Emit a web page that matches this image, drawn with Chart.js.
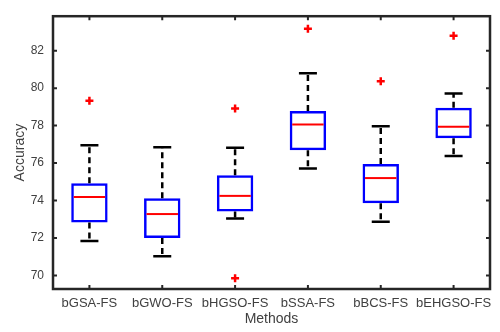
<!DOCTYPE html>
<html>
<head>
<meta charset="utf-8">
<script src="https://cdn.jsdelivr.net/npm/chart.js@4.4.1/dist/chart.umd.min.js"></script>
<style>
  html, body { margin: 0; padding: 0; background: #fff; }
</style>
</head>
<body>
<canvas id="boxChart" width="500" height="332"></canvas>
<script>
const methods = ['bGSA-FS', 'bGWO-FS', 'bHGSO-FS', 'bSSA-FS', 'bBCS-FS', 'bEHGSO-FS'];
const lowerWhisker = [71.84, 71.03, 73.04, 75.71, 72.87, 76.38];
const q1 = [72.83, 72.00, 73.41, 76.69, 73.86, 77.32];
const median = [74.19, 73.28, 74.25, 78.06, 75.20, 77.94];
const q3 = [74.92, 74.13, 75.35, 78.78, 75.95, 78.95];
const upperWhisker = [76.95, 76.84, 76.82, 80.80, 77.97, 79.71];
const outlierMethods = ['bGSA-FS', 'bHGSO-FS', 'bHGSO-FS', 'bSSA-FS', 'bBCS-FS', 'bEHGSO-FS'];
const outlierValues = [79.33, 78.92, 69.85, 83.17, 80.37, 82.80];
const yTicks = [70, 72, 74, 76, 78, 80, 82];

const labelColor = '#404040';

// whiskers, medians, frame and inward ticks
const boxExtras = {
    id: 'boxExtras',
    afterDatasetsDraw(chart) {
        const { ctx, chartArea } = chart;
        const x = chart.scales.x;
        const y = chart.scales.y;
        const boxW = (x.getPixelForValue(1) - x.getPixelForValue(0)) * 0.5;
        const capW = 18;
        ctx.save();
        methods.forEach((m, i) => {
            const cx = x.getPixelForValue(i);
            // dashed whiskers
            ctx.strokeStyle = '#000';
            ctx.lineWidth = 2.5;
            ctx.setLineDash([6, 4]);
            ctx.beginPath();
            ctx.moveTo(cx, y.getPixelForValue(q3[i]));
            ctx.lineTo(cx, y.getPixelForValue(upperWhisker[i]));
            ctx.moveTo(cx, y.getPixelForValue(q1[i]));
            ctx.lineTo(cx, y.getPixelForValue(lowerWhisker[i]));
            ctx.stroke();
            // caps
            ctx.setLineDash([]);
            ctx.beginPath();
            ctx.moveTo(cx - capW / 2, y.getPixelForValue(upperWhisker[i]));
            ctx.lineTo(cx + capW / 2, y.getPixelForValue(upperWhisker[i]));
            ctx.moveTo(cx - capW / 2, y.getPixelForValue(lowerWhisker[i]));
            ctx.lineTo(cx + capW / 2, y.getPixelForValue(lowerWhisker[i]));
            ctx.stroke();
            // median
            ctx.strokeStyle = '#ff0000';
            ctx.lineWidth = 2;
            ctx.beginPath();
            ctx.moveTo(cx - boxW / 2 + 2.5, y.getPixelForValue(median[i]));
            ctx.lineTo(cx + boxW / 2 - 2.5, y.getPixelForValue(median[i]));
            ctx.stroke();
        });

        // frame
        ctx.strokeStyle = '#262626';
        ctx.lineWidth = 2.5;
        ctx.strokeRect(chartArea.left, chartArea.top,
            chartArea.right - chartArea.left, chartArea.bottom - chartArea.top);

        // inward ticks on all four sides
        const tl = 4;
        ctx.lineWidth = 2;
        ctx.beginPath();
        methods.forEach((m, i) => {
            const px = x.getPixelForValue(i);
            ctx.moveTo(px, chartArea.bottom);
            ctx.lineTo(px, chartArea.bottom - tl);
            ctx.moveTo(px, chartArea.top);
            ctx.lineTo(px, chartArea.top + tl);
        });
        yTicks.forEach(v => {
            const py = y.getPixelForValue(v);
            ctx.moveTo(chartArea.left, py);
            ctx.lineTo(chartArea.left + tl, py);
            ctx.moveTo(chartArea.right, py);
            ctx.lineTo(chartArea.right - tl, py);
        });
        ctx.stroke();
        ctx.restore();
    }
};

const ctx = document.getElementById('boxChart').getContext('2d');
const chart = new Chart(ctx, {
    data: {
        labels: methods,
        datasets: [{
            type: 'bar',
            data: methods.map((m, i) => [q1[i], q3[i]]),
            backgroundColor: 'rgba(0,0,0,0)',
            borderColor: '#0000ff',
            borderWidth: 2.5,
            borderSkipped: false,
            categoryPercentage: 1,
            barPercentage: 0.5,
        }, {
            type: 'line',
            data: outlierMethods.map((m, i) => ({ x: m, y: outlierValues[i] })),
            showLine: false,
            pointStyle: 'cross',
            pointRadius: 4,
            pointBorderWidth: 2.5,
            pointBorderColor: '#ff0000',
            pointBackgroundColor: '#ff0000',
        }]
    },
    options: {
        responsive: false,
        animation: false,
        layout: {
            padding: { left: 8, top: 6, right: 10, bottom: 0 },
        },
        plugins: {
            legend: { display: false },
            tooltip: { enabled: false },
        },
        scales: {
            x: {
                grid: { display: false, drawTicks: false },
                border: { display: false },
                ticks: {
                    color: labelColor,
                    padding: 7,
                    maxRotation: 0,
                    autoSkip: false,
                    font: { family: 'Liberation Sans', size: 13 },
                },
                title: {
                    display: true,
                    text: 'Methods',
                    color: labelColor,
                    padding: { top: 0, bottom: 4 },
                    font: { family: 'Liberation Sans', size: 14 },
                },
                afterFit: s => { s.height = 43; },
            },
            y: {
                min: 69.28,
                max: 83.84,
                grid: { display: false, drawTicks: false },
                border: { display: false },
                afterBuildTicks: s => { s.ticks = yTicks.map(v => ({ value: v })); },
                ticks: {
                    color: labelColor,
                    padding: 9,
                    font: { family: 'Liberation Sans', size: 12 },
                },
                title: {
                    display: true,
                    text: 'Accuracy',
                    color: labelColor,
                    padding: { top: 4, bottom: 0 },
                    font: { family: 'Liberation Sans', size: 14 },
                },
                afterFit: s => { s.width = 45; },
            },
        },
    },
    plugins: [boxExtras],
});
</script>
</body>
</html>
